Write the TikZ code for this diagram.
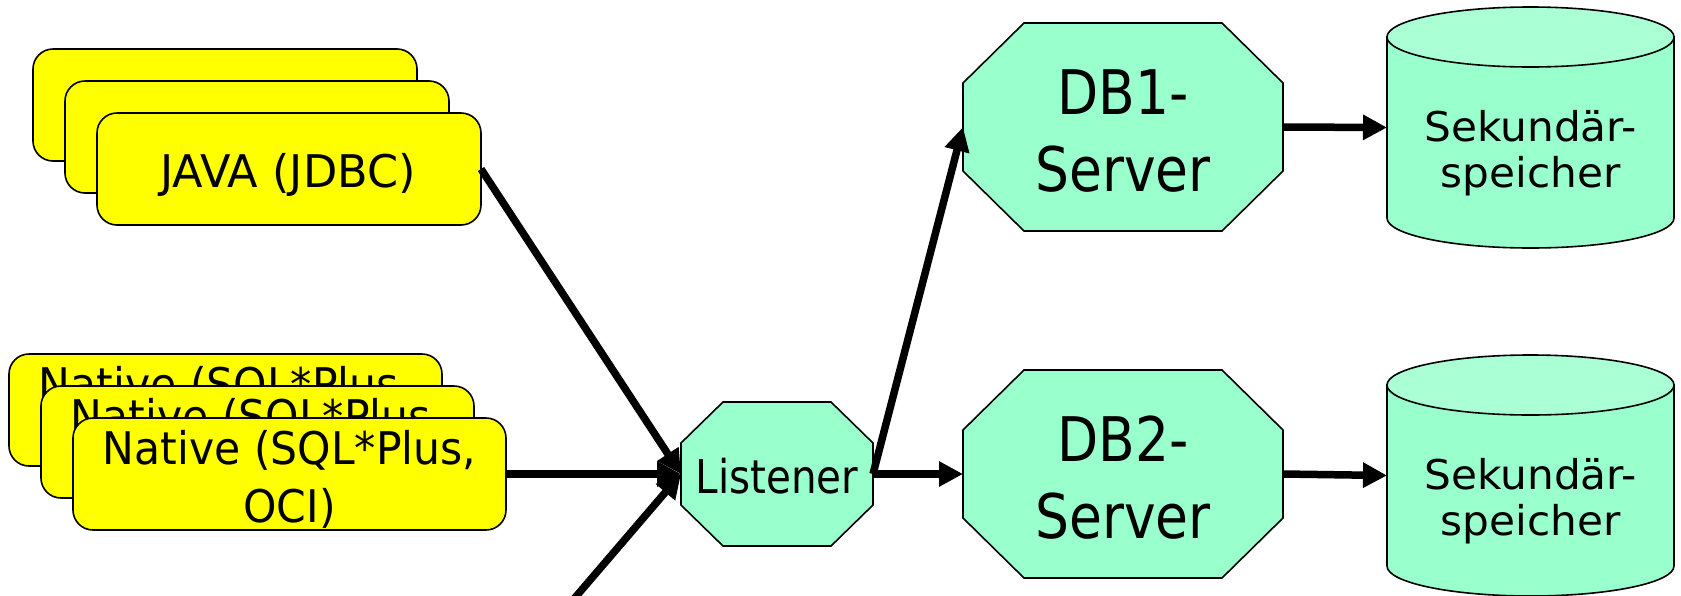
\documentclass[tikz,border=0pt]{standalone}
\usepackage{fontspec}
\setmainfont{DejaVu Sans}
\newfontfamily\fJ[FakeStretch=0.99]{DejaVu Sans}
\newfontfamily\fN[FakeStretch=0.945]{DejaVu Sans}
\newfontfamily\fO[FakeStretch=0.87]{DejaVu Sans}
\newfontfamily\fC[FakeStretch=1.03]{DejaVu Sans}
\usetikzlibrary{arrows.meta,calc}
\definecolor{ylw}{HTML}{FFFF00}
\definecolor{mint}{HTML}{99FFCC}
\definecolor{minttop}{HTML}{AAFFD5}
\newcommand{\drawoct}[3]{%
  \filldraw[octfill] ($(#1.north west)+(#2,0)$) -- ($(#1.north east)+(-#2,0)$)
    -- ($(#1.north east)+(0,#3)$) -- ($(#1.south east)+(0,-#3)$)
    -- ($(#1.south east)+(-#2,0)$) -- ($(#1.south west)+(#2,0)$)
    -- ($(#1.south west)+(0,-#3)$) -- ($(#1.north west)+(0,#3)$) -- cycle;}
\newcommand{\drawcyl}[1]{%
  \filldraw[cylfill] ($(#1.north west)+(0,30)$) -- ($(#1.south west)+(0,-30)$)
    arc[start angle=180,end angle=0,x radius=143.5,y radius=30]
    -- ($(#1.north east)+(0,30)$) -- cycle;
  \filldraw[cylfill,fill=minttop] ($(#1.north)+(0,30)$) ellipse[x radius=143.5,y radius=30];}
\begin{document}
\begin{tikzpicture}[x=1pt,y=-1pt,
  ybox/.style={draw=black,line width=1.6pt,fill=ylw,rounded corners=20pt,inner sep=0pt,outer sep=0pt,minimum height=112pt},
  javabox/.style={ybox,minimum width=384pt},
  natbox/.style={ybox,minimum width=433pt},
  frame/.style={inner sep=0pt,outer sep=0pt},
  octfill/.style={draw=black,line width=1.6pt,fill=mint,line join=miter},
  cylfill/.style={draw=black,line width=1.6pt,fill=mint},
  lbl/.style={anchor=base,inner sep=0pt,outer sep=0pt},
  jfont/.style={font=\fJ\fontsize{45}{54}\selectfont},
  nfont/.style={font=\fN\fontsize{45}{54}\selectfont},
  ofont/.style={font=\fO\fontsize{46.5}{56}\selectfont},
  dfont/.style={font=\fO\fontsize{61.5}{74}\selectfont},
  cfont/.style={font=\fC\fontsize{41}{49}\selectfont},
  conn/.style={line width=7.5pt,-{Triangle[length=24pt,width=24pt]}},
]
\path[use as bounding box] (0,0) rectangle (1681,595);
\clip (0,0) rectangle (1681,595);

% JAVA stack
\node[javabox] (java3) at (225,105) {};
\node[javabox] (java2) at (257,137) {};
\node[javabox] (java) at (289,169) {};
\node[lbl,jfont] (javaT) at (288,187) {JAVA (JDBC)};

% Native stack
\node[natbox] (nat3) at (225.5,410) {};
\node[lbl,nfont] (nat3T) at (225.5,400) {Native (SQL*Plus,};
\node[natbox] (nat2) at (257.5,442) {};
\node[lbl,nfont] (nat2T) at (257.5,432) {Native (SQL*Plus,};
\node[natbox] (nat) at (289.5,474) {};
\node[lbl,nfont] (natT1) at (289.5,464) {Native (SQL*Plus,};
\node[lbl,nfont] (natT2) at (289.5,522) {OCI)};

% Listener
\node[frame,minimum width=192pt,minimum height=144pt] (lis) at (777,474) {};
\drawoct{lis}{42}{41}
\node[lbl,ofont] (lisT) at (777,493) {Listener};

% DB servers
\node[frame,minimum width=320pt,minimum height=208pt] (db1) at (1123,127) {};
\drawoct{db1}{61}{60}
\node[lbl,dfont] (db1T1) at (1123,114) {DB1-};
\node[lbl,dfont] (db1T2) at (1123,191) {Server};

\node[frame,minimum width=320pt,minimum height=208pt] (db2) at (1123,474) {};
\drawoct{db2}{61}{60}
\node[lbl,dfont] (db2T1) at (1123,461) {DB2-};
\node[lbl,dfont] (db2T2) at (1123,538) {Server};

% Cylinders
\node[frame,minimum width=287pt,minimum height=241pt] (cyl1) at (1530.5,127.5) {};
\drawcyl{cyl1}
\node[lbl,cfont] (cyl1T1) at (1530.5,141) {Sekundär-};
\node[lbl,cfont] (cyl1T2) at (1530.5,187) {speicher};

\node[frame,minimum width=287pt,minimum height=241pt] (cyl2) at (1530.5,475.5) {};
\drawcyl{cyl2}
\node[lbl,cfont] (cyl2T1) at (1530.5,489) {Sekundär-};
\node[lbl,cfont] (cyl2T2) at (1530.5,535) {speicher};

% connectors
\coordinate (offsrc) at (573,600);
\draw[conn] (java.east) -- (lis.west);
\draw[conn] (nat.east) -- (lis.west);
\draw[conn] (offsrc) -- (lis.west);
\draw[conn] (lis.east) -- (db1.west);
\draw[conn] (lis.east) -- (db2.west);
\draw[conn] (db1.east) -- (cyl1.west);
\draw[conn] (db2.east) -- (cyl2.west);
\end{tikzpicture}
\end{document}
